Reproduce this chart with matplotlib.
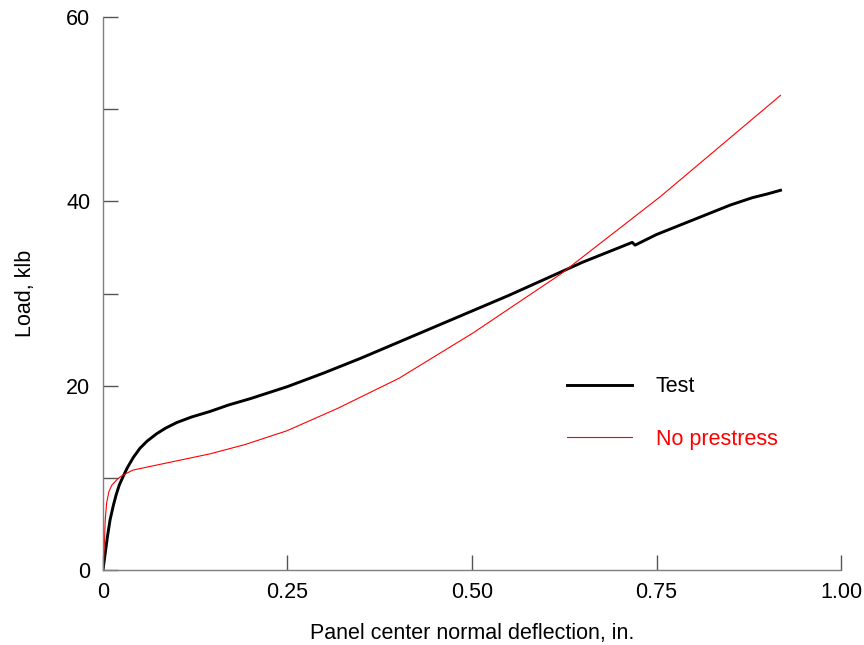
import matplotlib
matplotlib.use("Agg")
import matplotlib.pyplot as plt
from matplotlib.ticker import MultipleLocator

plt.rcParams['font.family'] = ['Liberation Sans', 'DejaVu Sans']

test_x = [0, 0.003, 0.006, 0.0095, 0.014, 0.018, 0.022, 0.027, 0.033, 0.041, 0.05,
          0.06, 0.073, 0.085, 0.1, 0.12, 0.145, 0.17, 0.2, 0.25, 0.3, 0.35, 0.4,
          0.45, 0.5, 0.55, 0.6, 0.65, 0.7, 0.714, 0.717, 0.721, 0.75, 0.8, 0.85,
          0.88, 0.9, 0.918]
test_y = [0, 1.8, 3.6, 5.4, 7.0, 8.2, 9.2, 10.1, 11.1, 12.2, 13.2,
          14.0, 14.8, 15.4, 16.0, 16.6, 17.2, 17.9, 18.6, 19.9, 21.4, 23.0, 24.7,
          26.4, 28.1, 29.8, 31.6, 33.4, 35.0, 35.45, 35.55, 35.25, 36.4, 38.0, 39.6,
          40.4, 40.8, 41.2]

nop_x = [0, 0.002, 0.003, 0.005, 0.008, 0.012, 0.02, 0.027, 0.041, 0.145,
         0.192, 0.249, 0.317, 0.401, 0.501, 0.62, 0.755, 0.918]
nop_y = [0, 3.0, 5.4, 7.3, 8.5, 9.2, 9.9, 10.3, 10.85, 12.6,
         13.6, 15.1, 17.5, 20.8, 25.7, 32.1, 40.5, 51.5]

x_ticks = [0, 0.25, 0.5, 0.75, 1.0]
x_labels = ['0', '0.25', '0.50', '0.75', '1.00']
y_ticks = [0, 20, 40, 60]
y_labels = ['0', '20', '40', '60']

fig = plt.figure(figsize=(8.64, 6.45), dpi=100)
ax = fig.add_axes([0.1192, 0.1163, 0.8542, 0.8573])

ax.plot(test_x, test_y, color='black', lw=2.1, label='Test')
ax.plot(nop_x, nop_y, color='red', lw=0.8, label='No prestress')

ax.set_xlim(0, 1.0)
ax.set_ylim(0, 60)
ax.set_xticks(x_ticks)
ax.set_xticklabels(x_labels)
ax.set_yticks(y_ticks)
ax.set_yticklabels(y_labels)
ax.yaxis.set_minor_locator(MultipleLocator(10))

for s in ['top', 'right']:
    ax.spines[s].set_visible(False)
for s in ['left', 'bottom']:
    ax.spines[s].set_color('#7f7f7f')
    ax.spines[s].set_linewidth(1.0)

ax.tick_params(which='both', direction='in', length=11, width=1.0, color='#555555',
               labelsize=15.5, pad=9)
ax.tick_params(axis='y', which='minor', length=11, color='#555555')

ax.set_xlabel('Panel center normal deflection, in.', fontsize=15.5, labelpad=14)
ax.set_ylabel('Load, klb', fontsize=15.5, labelpad=22)

leg = ax.legend(frameon=False, loc='upper left', bbox_to_anchor=(0.603, 0.385),
                fontsize=15.5, handlelength=3.0, handletextpad=1.1,
                labelspacing=1.45, labelcolor='linecolor')

fig.savefig('out.png', dpi=100)
